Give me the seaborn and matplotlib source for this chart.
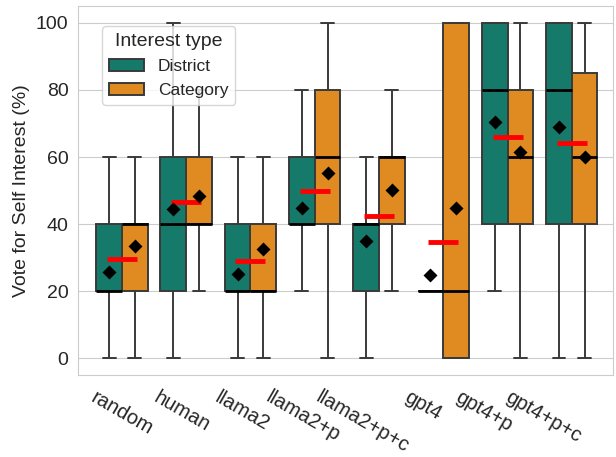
import pandas as pd
import matplotlib
matplotlib.use("Agg")
import matplotlib.pyplot as plt
from matplotlib.transforms import ScaledTranslation
import seaborn as sns

sns.set_style("whitegrid")
plt.rcParams['font.family'] = ['Liberation Sans', 'DejaVu Sans']

models = ['random', 'human', 'llama2', 'llama2+p', 'llama2+p+c', 'gpt4', 'gpt4+p', 'gpt4+p+c']
interest_types = ['District', 'Category']

# five-number summaries: min, q1, median, q3, max
district_box = [
    [0, 20, 20, 40, 60],
    [0, 20, 40, 60, 100],
    [0, 20, 20, 40, 60],
    [20, 40, 40, 60, 80],
    [0, 20, 40, 40, 60],
    [20, 20, 20, 20, 20],
    [20, 40, 80, 100, 100],
    [0, 40, 80, 100, 100],
]
category_box = [
    [0, 20, 40, 40, 60],
    [20, 40, 40, 60, 80],
    [0, 20, 20, 40, 60],
    [0, 40, 60, 80, 100],
    [20, 40, 60, 60, 80],
    [0, 0, 20, 100, 100],
    [0, 40, 60, 80, 100],
    [0, 40, 60, 85, 100],
]

district_mean = [25.6, 44.6, 25.2, 44.8, 34.9, 24.9, 70.5, 68.8]
category_mean = [33.6, 48.3, 32.5, 55.2, 50.2, 44.7, 61.5, 59.9]
overall_mean = [29.6, 46.5, 28.9, 50.0, 42.5, 34.7, 66.0, 64.3]

palette = ['#157a69', '#e08a22']

rows = []
for m, d, c in zip(models, district_box, category_box):
    for v in d:
        rows.append((m, 'District', v))
    for v in c:
        rows.append((m, 'Category', v))
df = pd.DataFrame(rows, columns=['model', 'type', 'vote'])

mean_df = pd.DataFrame({
    'model': models * 2,
    'type': ['District'] * len(models) + ['Category'] * len(models),
    'mean': district_mean + category_mean,
})

fig, ax = plt.subplots(figsize=(6.16, 4.57), dpi=100)
fig.subplots_adjust(left=0.127, right=0.995, top=0.987, bottom=0.179)

sns.boxplot(data=df, x='model', y='vote', hue='type', order=models,
            hue_order=interest_types, palette=palette, saturation=1,
            showfliers=False, linecolor='#3a3a3a', linewidth=1.4,
            medianprops=dict(color='black', linewidth=2), ax=ax)

sns.pointplot(x=models, y=overall_mean, color='red', markers='_',
              markersize=21, markeredgewidth=3.5, linestyle='none',
              errorbar=None, ax=ax)

sns.pointplot(data=mean_df, x='model', y='mean', hue='type', order=models,
              hue_order=interest_types, palette=['black', 'black'],
              markers='D', markersize=5.5, linestyle='none', dodge=0.4,
              errorbar=None, legend=False, ax=ax)

ax.set_xlim(-0.68, 7.64)
ax.set_ylim(-5, 105)
ax.set_xlabel('')
ax.set_ylabel('Vote for Self Interest (%)', fontsize=14)
ax.tick_params(axis='y', labelsize=14)
ax.tick_params(axis='x', labelsize=14.5)
plt.setp(ax.get_xticklabels(), rotation=-30, ha='center')
# the reference labels creep slightly left of their ticks
for i, lab in enumerate(ax.get_xticklabels()):
    lab.set_transform(lab.get_transform()
                      + ScaledTranslation(-0.04 * i, -0.03, fig.dpi_scale_trans))

sns.move_legend(ax, 'upper left', bbox_to_anchor=(0.045, 0.945),
                borderaxespad=0, title='Interest type', fontsize=12.5,
                title_fontsize=14)

fig.savefig('out.png', dpi=100)
